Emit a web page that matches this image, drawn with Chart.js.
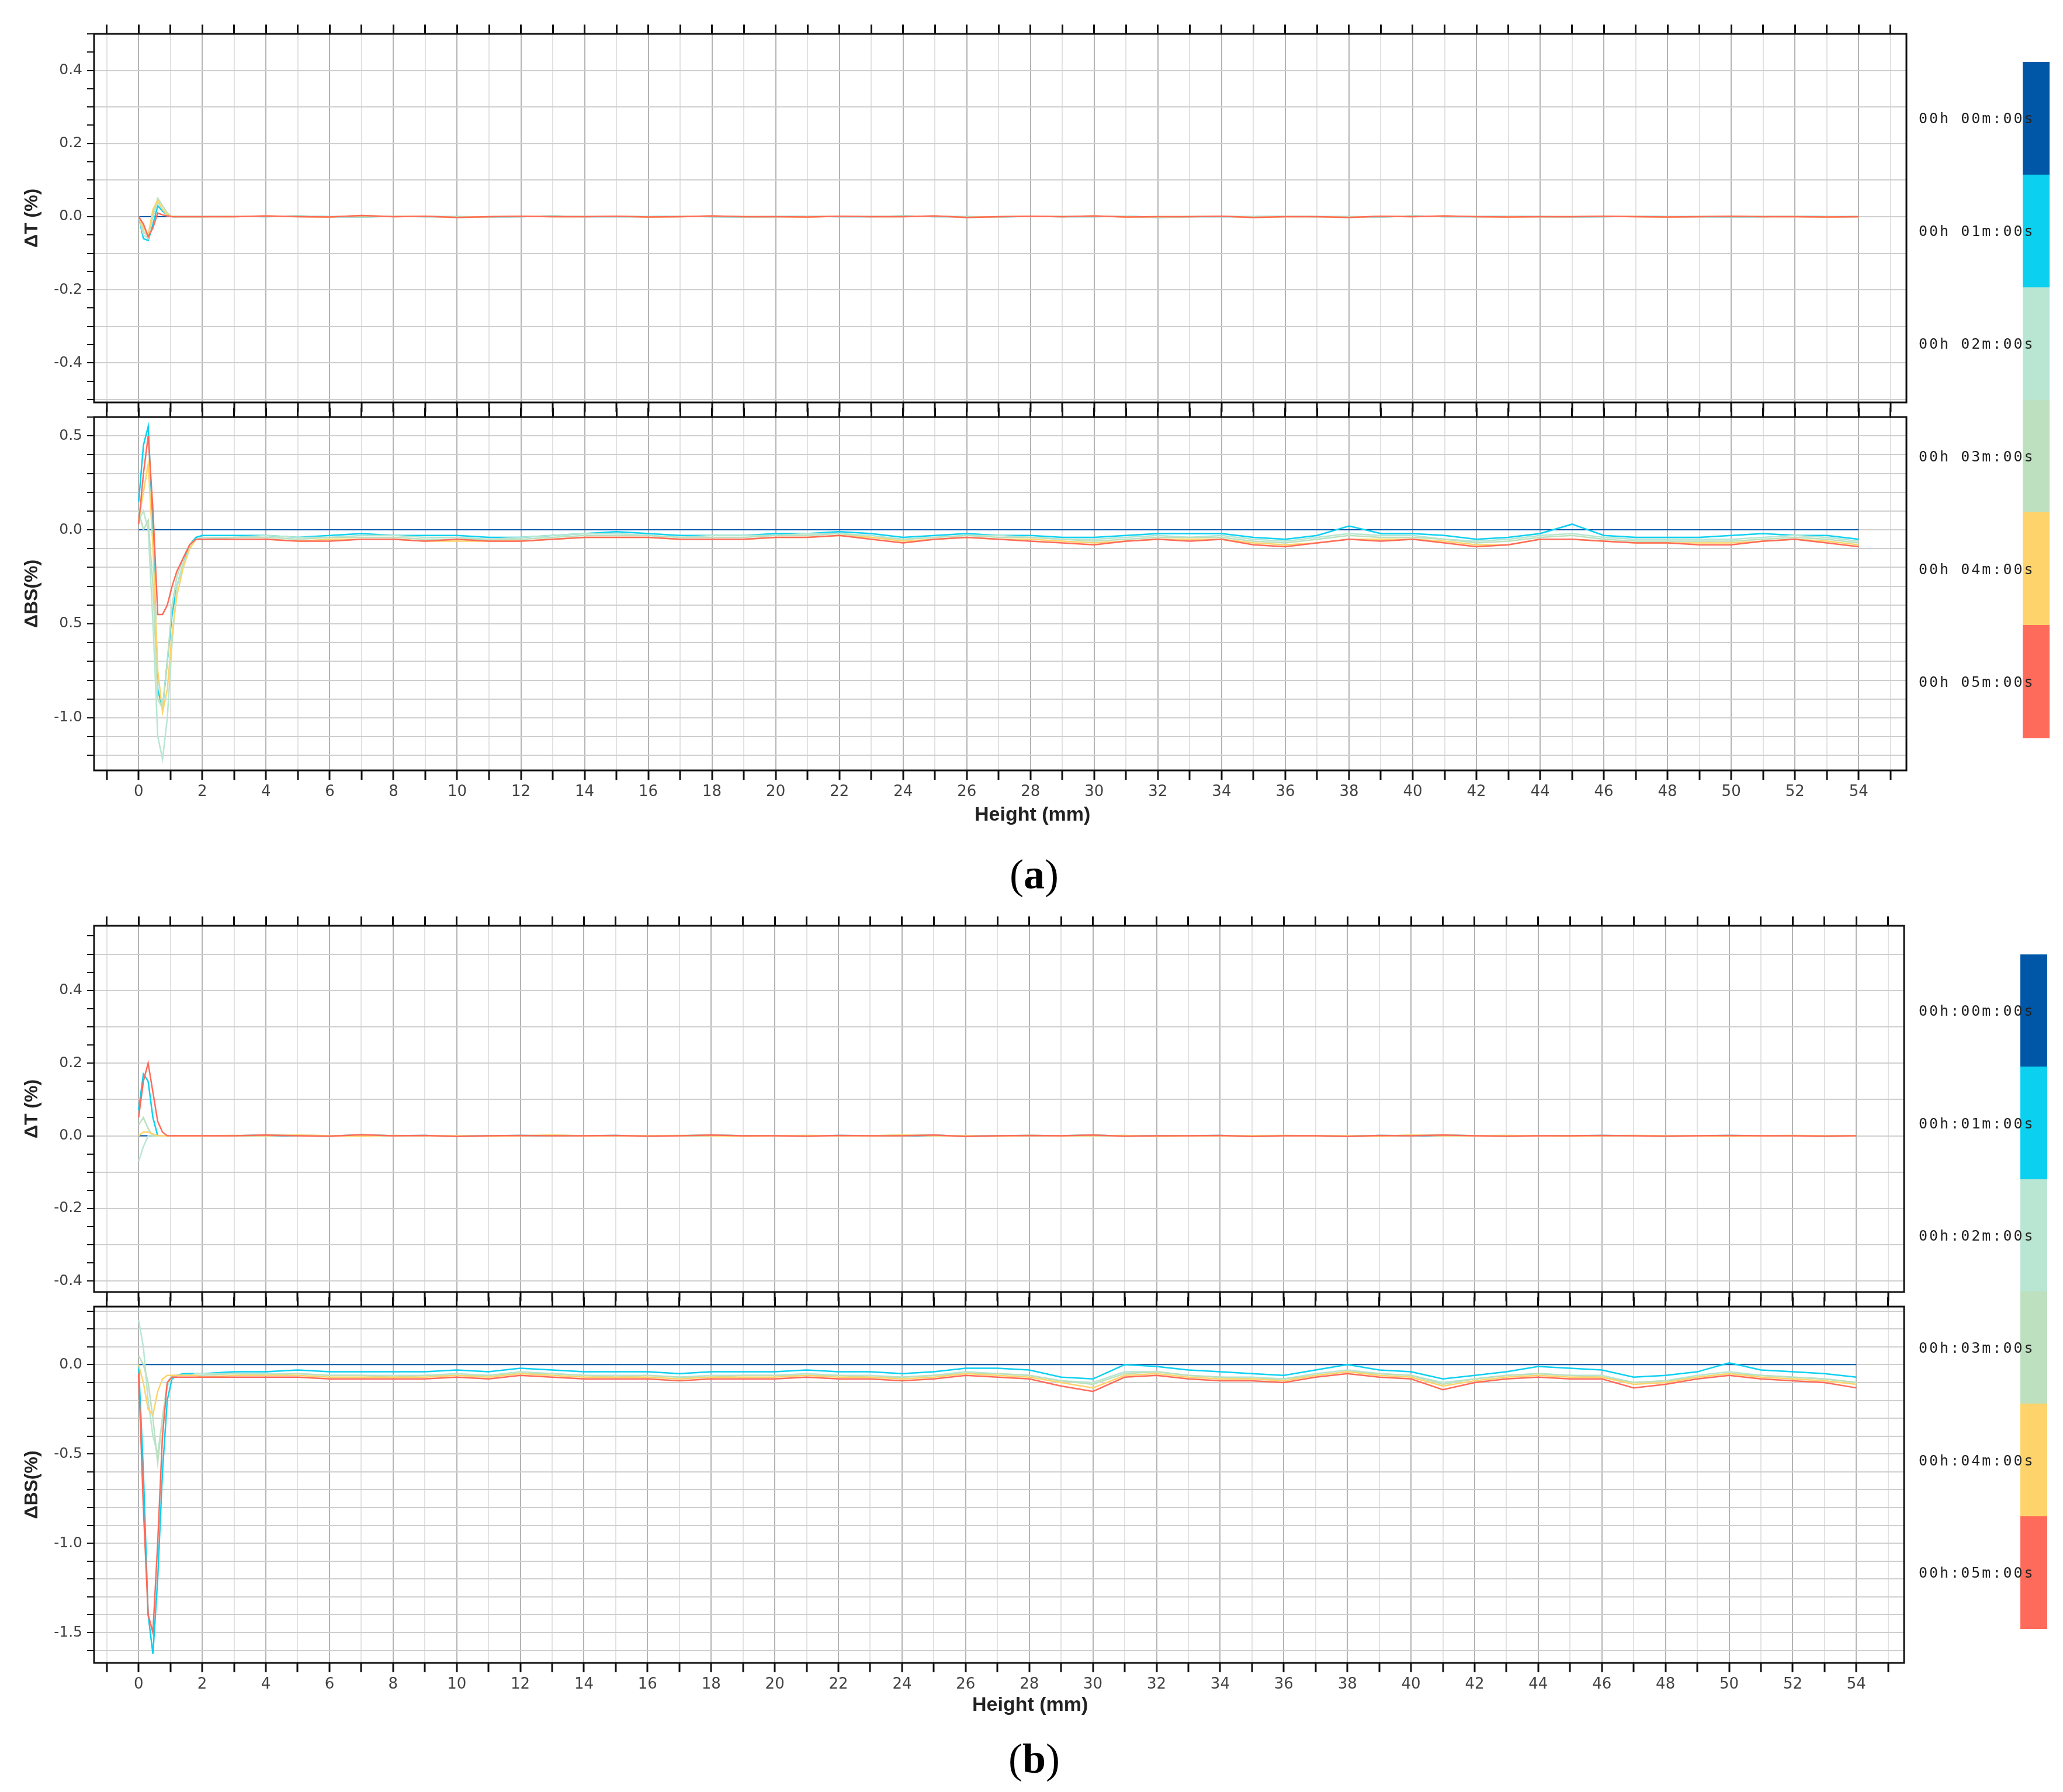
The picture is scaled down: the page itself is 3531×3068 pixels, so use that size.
<!DOCTYPE html>
<html><head><meta charset="utf-8">
<script src="https://cdn.jsdelivr.net/npm/chart.js@4"></script>
<style>
body{margin:0;background:#fff;width:3531px;height:3068px;position:relative;overflow:hidden;font-family:"Liberation Sans",Arial,sans-serif}
canvas{position:absolute;left:0}
.t{position:absolute;white-space:nowrap}
.lab{position:absolute;font-size:25px;color:#222;letter-spacing:3px;font-family:"DejaVu Sans Mono",monospace;transform:translateY(-50%)}
.seg{position:absolute;width:46px}
</style></head><body>
<canvas id="c1"></canvas><canvas id="c2"></canvas><canvas id="c3"></canvas><canvas id="c4"></canvas>
<div class="t" style="left:1668px;top:1374px;font-size:34px;font-weight:bold;color:#222">Height (mm)</div>
<div class="t" style="left:1664px;top:2898px;font-size:34px;font-weight:bold;color:#222">Height (mm)</div>
<div class="t" style="left:1728px;top:1456px;font-size:72px;font-family:'Liberation Serif',serif">(<b>a</b>)</div>
<div class="t" style="left:1726px;top:2970px;font-size:72px;font-family:'Liberation Serif',serif">(<b>b</b>)</div>
<div id="leg"></div>
<script>
const seriesNames=["00h 00m:00s","00h 01m:00s","00h 02m:00s","00h 03m:00s","00h 04m:00s","00h 05m:00s"];
const seriesNamesB=["00h:00m:00s","00h:01m:00s","00h:02m:00s","00h:03m:00s","00h:04m:00s","00h:05m:00s"];
const colors=["#0057a8","#0cd0f0","#b8e6d2","#bde0bf","#ffd36b","#ff6b5a"];
const xs=[0,0.15,0.3,0.45,0.6,0.75,0.9,1.05,1.2,1.4,1.6,1.8,2,3,4,5,6,7,8,9,10,11,12,13,14,15,16,17,18,19,20,21,22,23,24,25,26,27,28,29,30,31,32,33,34,35,36,37,38,39,40,41,42,43,44,45,46,47,48,49,50,51,52,53,54];
// ---- (a) ΔT
const aT1=[0,-0.06,-0.065,-0.02,0.03,0.015,0.005,0,0,0,0,0,0];
const aT2=[0,-0.05,-0.06,0.0,0.04,0.02,0.005,0,0,0,0,0,0];
const aT3=[0,-0.04,-0.055,0.01,0.05,0.03,0.01,0,0,0,0,0,0];
const aT4=[0,-0.03,-0.05,0.02,0.045,0.02,0.005,0,0,0,0,0,0];
const aT5=[0,-0.02,-0.055,-0.03,0.01,0.005,0.002,0,0,0,0,0,0];
const tTailA=[0,0.002,0,-0.001,0.003,0,0.001,-0.002,0,0.001,0,0,0.001,-0.001,0,0.002,0,0,-0.001,0.001,0,0,0.002,-0.002,0,0.001,0,0.002,-0.001,0,0,0.001,-0.002,0,0,-0.002,0.001,0,0.002,0,-0.001,0,0,0.001,0,-0.001,0,0.001,0,0,-0.001,0];
const tTailA2=[0.001,0,0.002,0,-0.001,0.001,0,0,-0.001,0,0.002,0,0,0,0.001,0,-0.001,0,0.001,0,0,0.002,0,0,-0.001,0.001,0,0,0.001,-0.002,0,0,0,0.001,0,0,-0.001,0.002,0,0,0.001,0,-0.001,0,0.001,0,0,-0.001,0,0.001,0,0];
// ---- (a) ΔBS
const aB1=[0.15,0.45,0.55,0.0,-0.85,-0.95,-0.7,-0.45,-0.3,-0.18,-0.08,-0.04,-0.03];
const aB2=[0.05,0.1,0.0,-0.5,-1.1,-1.22,-1.0,-0.6,-0.3,-0.18,-0.1,-0.05,-0.04];
const aB3=[0.1,0.0,0.05,-0.3,-0.9,-0.95,-0.7,-0.4,-0.25,-0.15,-0.08,-0.05,-0.05];
const aB4=[0.05,0.2,0.35,-0.1,-0.75,-0.97,-0.85,-0.55,-0.35,-0.2,-0.1,-0.05,-0.05];
const aB5=[0.03,0.3,0.5,0.1,-0.45,-0.45,-0.4,-0.3,-0.22,-0.15,-0.08,-0.05,-0.05];
const aB1t=[-0.03,-0.03,-0.04,-0.03,-0.02,-0.03,-0.03,-0.03,-0.04,-0.04,-0.03,-0.02,-0.01,-0.02,-0.03,-0.03,-0.03,-0.02,-0.02,-0.01,-0.02,-0.04,-0.03,-0.02,-0.03,-0.03,-0.04,-0.04,-0.03,-0.02,-0.02,-0.02,-0.04,-0.05,-0.03,0.02,-0.02,-0.02,-0.03,-0.05,-0.04,-0.02,0.03,-0.03,-0.04,-0.04,-0.04,-0.03,-0.02,-0.03,-0.03,-0.05];
const aB2t=[-0.04,-0.03,-0.04,-0.04,-0.03,-0.03,-0.04,-0.04,-0.05,-0.04,-0.03,-0.02,-0.02,-0.03,-0.04,-0.03,-0.03,-0.03,-0.02,-0.02,-0.03,-0.05,-0.04,-0.03,-0.03,-0.04,-0.05,-0.05,-0.04,-0.03,-0.04,-0.03,-0.05,-0.06,-0.04,-0.02,-0.03,-0.03,-0.05,-0.06,-0.05,-0.03,-0.02,-0.04,-0.05,-0.05,-0.05,-0.05,-0.04,-0.03,-0.04,-0.06];
const aB3t=[-0.04,-0.04,-0.05,-0.04,-0.04,-0.04,-0.05,-0.05,-0.05,-0.05,-0.04,-0.03,-0.03,-0.03,-0.04,-0.04,-0.04,-0.03,-0.03,-0.02,-0.04,-0.05,-0.04,-0.03,-0.04,-0.04,-0.05,-0.06,-0.05,-0.04,-0.04,-0.04,-0.06,-0.07,-0.05,-0.03,-0.04,-0.04,-0.05,-0.07,-0.06,-0.04,-0.03,-0.05,-0.06,-0.06,-0.06,-0.06,-0.05,-0.04,-0.05,-0.07];
const aB4t=[-0.05,-0.05,-0.06,-0.05,-0.05,-0.05,-0.06,-0.06,-0.06,-0.06,-0.05,-0.04,-0.04,-0.04,-0.05,-0.05,-0.05,-0.04,-0.04,-0.03,-0.04,-0.06,-0.05,-0.04,-0.05,-0.05,-0.06,-0.07,-0.06,-0.05,-0.05,-0.05,-0.07,-0.08,-0.07,-0.05,-0.05,-0.05,-0.06,-0.08,-0.08,-0.05,-0.05,-0.06,-0.07,-0.07,-0.07,-0.07,-0.06,-0.05,-0.06,-0.08];
const aB5t=[-0.05,-0.05,-0.06,-0.06,-0.05,-0.05,-0.06,-0.05,-0.06,-0.06,-0.05,-0.04,-0.04,-0.04,-0.05,-0.05,-0.05,-0.04,-0.04,-0.03,-0.05,-0.07,-0.05,-0.04,-0.05,-0.06,-0.07,-0.08,-0.06,-0.05,-0.06,-0.05,-0.08,-0.09,-0.07,-0.05,-0.06,-0.05,-0.07,-0.09,-0.08,-0.05,-0.05,-0.06,-0.07,-0.07,-0.08,-0.08,-0.06,-0.05,-0.07,-0.09];
// ---- (b) ΔT
const bT1=[0.07,0.17,0.15,0.05,0.0,0,0,0,0,0,0,0,0];
const bT2=[-0.07,-0.03,0.0,0.0,0,0,0,0,0,0,0,0,0];
const bT3=[0.03,0.05,0.02,0.0,0,0,0,0,0,0,0,0,0];
const bT4=[0.0,0.01,0.01,0.005,0.0,0,0,0,0,0,0,0,0];
const bT5=[0.05,0.15,0.2,0.12,0.04,0.01,0,0,0,0,0,0,0];
// ---- (b) ΔBS
const bB1=[0.0,-0.6,-1.4,-1.62,-1.2,-0.6,-0.2,-0.08,-0.06,-0.05,-0.05,-0.05,-0.05];
const bB2=[0.25,0.1,-0.2,-0.4,-0.5,-0.3,-0.12,-0.07,-0.06,-0.06,-0.06,-0.05,-0.05];
const bB3=[0.05,0.0,-0.1,-0.3,-0.55,-0.3,-0.1,-0.06,-0.06,-0.06,-0.06,-0.06,-0.06];
const bB4=[0.0,-0.1,-0.25,-0.28,-0.15,-0.08,-0.06,-0.06,-0.06,-0.06,-0.06,-0.06,-0.07];
const bB5=[-0.05,-0.8,-1.4,-1.5,-1.0,-0.4,-0.1,-0.07,-0.07,-0.07,-0.07,-0.07,-0.07];
const bB1t=[-0.04,-0.04,-0.03,-0.04,-0.04,-0.04,-0.04,-0.03,-0.04,-0.02,-0.03,-0.04,-0.04,-0.04,-0.05,-0.04,-0.04,-0.04,-0.03,-0.04,-0.04,-0.05,-0.04,-0.02,-0.02,-0.03,-0.07,-0.08,0.0,-0.01,-0.03,-0.04,-0.05,-0.06,-0.03,0.0,-0.03,-0.04,-0.08,-0.06,-0.04,-0.01,-0.02,-0.03,-0.07,-0.06,-0.04,0.01,-0.03,-0.04,-0.05,-0.07];
const bB2t=[-0.05,-0.05,-0.05,-0.06,-0.06,-0.06,-0.06,-0.05,-0.06,-0.04,-0.05,-0.06,-0.06,-0.06,-0.07,-0.06,-0.06,-0.06,-0.05,-0.06,-0.06,-0.07,-0.06,-0.04,-0.05,-0.06,-0.09,-0.1,-0.04,-0.04,-0.06,-0.07,-0.07,-0.08,-0.05,-0.03,-0.05,-0.06,-0.1,-0.08,-0.06,-0.05,-0.06,-0.06,-0.1,-0.09,-0.06,-0.04,-0.06,-0.07,-0.08,-0.1];
const bB3t=[-0.05,-0.06,-0.05,-0.06,-0.06,-0.07,-0.06,-0.06,-0.06,-0.05,-0.05,-0.06,-0.07,-0.06,-0.07,-0.07,-0.06,-0.06,-0.06,-0.06,-0.07,-0.07,-0.06,-0.05,-0.05,-0.06,-0.09,-0.11,-0.05,-0.04,-0.06,-0.07,-0.08,-0.08,-0.06,-0.04,-0.05,-0.06,-0.11,-0.08,-0.06,-0.05,-0.06,-0.07,-0.1,-0.09,-0.07,-0.05,-0.06,-0.07,-0.08,-0.1];
const bB4t=[-0.06,-0.06,-0.06,-0.07,-0.07,-0.07,-0.07,-0.06,-0.07,-0.05,-0.06,-0.07,-0.07,-0.07,-0.08,-0.07,-0.07,-0.07,-0.06,-0.07,-0.07,-0.08,-0.07,-0.05,-0.06,-0.07,-0.1,-0.13,-0.06,-0.05,-0.07,-0.08,-0.08,-0.09,-0.06,-0.04,-0.06,-0.07,-0.12,-0.09,-0.07,-0.06,-0.07,-0.07,-0.11,-0.1,-0.07,-0.05,-0.07,-0.08,-0.09,-0.11];
const bB5t=[-0.07,-0.07,-0.07,-0.08,-0.08,-0.08,-0.08,-0.07,-0.08,-0.06,-0.07,-0.08,-0.08,-0.08,-0.09,-0.08,-0.08,-0.08,-0.07,-0.08,-0.08,-0.09,-0.08,-0.06,-0.07,-0.08,-0.12,-0.15,-0.07,-0.06,-0.08,-0.09,-0.09,-0.1,-0.07,-0.05,-0.07,-0.08,-0.14,-0.1,-0.08,-0.07,-0.08,-0.08,-0.13,-0.11,-0.08,-0.06,-0.08,-0.09,-0.1,-0.13];
const zeroTail=[0,0,0,0,0,0,0,0,0,0,0,0,0,0,0,0,0,0,0,0,0,0,0,0,0,0,0,0,0,0,0,0,0,0,0,0,0,0,0,0,0,0,0,0,0,0,0,0,0,0,0,0];
const zeroHead=[0,0,0,0,0,0,0,0,0,0,0,0,0];

function ser(head,tail){return head.concat(tail).map((y,i)=>({x:xs[i],y}));}
const panels=[
 {id:'c1',top:57,bot:690,ymin:-0.508,ymax:0.5,step:0.05,grid:0.1,lab:0.2,title:'ΔT (%)',xl:false,
  data:[ser(zeroHead,zeroTail),ser(aT1,tTailA2),ser(aT2,tTailA),ser(aT3,tTailA2),ser(aT4,tTailA),ser(aT5,tTailA)]},
 {id:'c2',top:713,bot:1319,ymin:-1.28,ymax:0.6,step:0.1,grid:0.1,lab:0.5,title:'ΔBS(%)',xl:true,fix:{'-0.5':'0.5'},
  data:[ser(zeroHead,zeroTail),ser(aB1,aB1t),ser(aB2,aB2t),ser(aB3,aB3t),ser(aB4,aB4t),ser(aB5,aB5t)]},
 {id:'c3',top:1584,bot:2213,ymin:-0.43,ymax:0.578,step:0.05,grid:0.1,lab:0.2,title:'ΔT (%)',xl:false,
  data:[ser(zeroHead,zeroTail),ser(bT1,tTailA),ser(bT2,tTailA2),ser(bT3,tTailA),ser(bT4,tTailA2),ser(bT5,tTailA)]},
 {id:'c4',top:2236,bot:2847,ymin:-1.67,ymax:0.325,step:0.1,grid:0.1,lab:0.5,title:'ΔBS(%)',xl:true,
  data:[ser(zeroHead,zeroTail),ser(bB1,bB1t),ser(bB2,bB2t),ser(bB3,bB3t),ser(bB4,bB4t),ser(bB5,bB5t)]}
];
const xTicks=[];for(let v=-1;v<=55;v++)xTicks.push(v);
const near=(v,m)=>Math.abs(v/m-Math.round(v/m))<1e-6;
const border={id:'bd',afterDraw(c){const a=c.chartArea,g=c.ctx;g.save();g.strokeStyle='#111';g.lineWidth=3;g.strokeRect(a.left,a.top,a.right-a.left,a.bottom-a.top);g.restore();}};
panels.forEach((p,pi)=>{
 const T=22,B=p.xl?80:22,W=3290;
 const cv=document.getElementById(p.id);
 cv.width=W;cv.height=(p.bot-p.top)+T+B;cv.style.top=(p.top-T)+'px';
 const right=pi<2?3263:3259;
 new Chart(cv,{type:'line',
  data:{datasets:p.data.map((d,i)=>({data:d,borderColor:colors[i],borderWidth:i==0?2:2.5,pointRadius:0,tension:0,order:6-i}))},
  options:{responsive:false,animation:false,devicePixelRatio:1,layout:{padding:{right:W-right,left:0,top:0,bottom:0}},
   plugins:{legend:{display:false},tooltip:{enabled:false}},
   scales:{
    x:{type:'linear',position:'bottom',min:-1.4,max:55.5,afterBuildTicks:s=>{s.ticks=xTicks.map(v=>({value:v}))},
     afterFit:s=>{s.height=B},
     grid:{color:c=>c.tick&&c.tick.value%2===0?'#b4b4b4':'#e2e2e2',lineWidth:2,tickLength:16,tickColor:'#111',tickWidth:3},
     border:{display:false},
     ticks:{display:p.xl,autoSkip:false,maxRotation:0,font:{size:26,family:'DejaVu Sans'},color:'#444',padding:6,
      callback:v=>(v%2===0&&v>=0&&v<=54)?String(v):''}},
    x2:{type:'linear',position:'top',min:-1.4,max:55.5,afterBuildTicks:s=>{s.ticks=xTicks.map(v=>({value:v}))},
     afterFit:s=>{s.height=T},
     grid:{drawOnChartArea:false,tickLength:16,tickColor:'#111',tickWidth:3},border:{display:false},ticks:{display:false}},
    y:{min:p.ymin,max:p.ymax,afterFit:s=>{s.width=161},
     afterBuildTicks:s=>{const t=[];const n0=Math.ceil(p.ymin/p.step-1e-6),n1=Math.floor(p.ymax/p.step+1e-6);for(let n=n0;n<=n1;n++)t.push({value:+(n*p.step).toFixed(3)});s.ticks=t;},
     grid:{color:c=>c.tick&&near(c.tick.value,p.grid)?'#cfcfcf':'rgba(0,0,0,0)',lineWidth:2,tickLength:12,tickColor:'#111',tickWidth:2},
     border:{display:false},
     title:{display:true,text:p.title,font:{size:32,weight:'bold',family:'Liberation Sans'},color:'#222',padding:{top:36,bottom:0}},
     ticks:{autoSkip:false,font:{size:25,family:'DejaVu Sans'},color:'#444',padding:8,
      callback:v=>{if(!near(v,p.lab))return '';let s=(Math.abs(v)<1e-9?0:v).toFixed(1);if(p.fix&&p.fix[s])s=p.fix[s];return s;}}}
   }},plugins:[border]});
});
// legends
function legend(x,top,bot,names){const h=(bot-top)/6;const L=document.getElementById('leg');
 names.forEach((n,i)=>{const s=document.createElement('div');s.className='seg';s.style.left=x+'px';s.style.top=(top+i*h)+'px';s.style.height=(h+1)+'px';s.style.background=colors[i];L.appendChild(s);
 const t=document.createElement('div');t.className='lab';t.style.left='3284px';t.style.top=(top+i*h+h/2)+'px';t.textContent=n;L.appendChild(t);});}
legend(3462,106,1263,seriesNames);
legend(3458,1634,2788,seriesNamesB);
</script></body></html>
